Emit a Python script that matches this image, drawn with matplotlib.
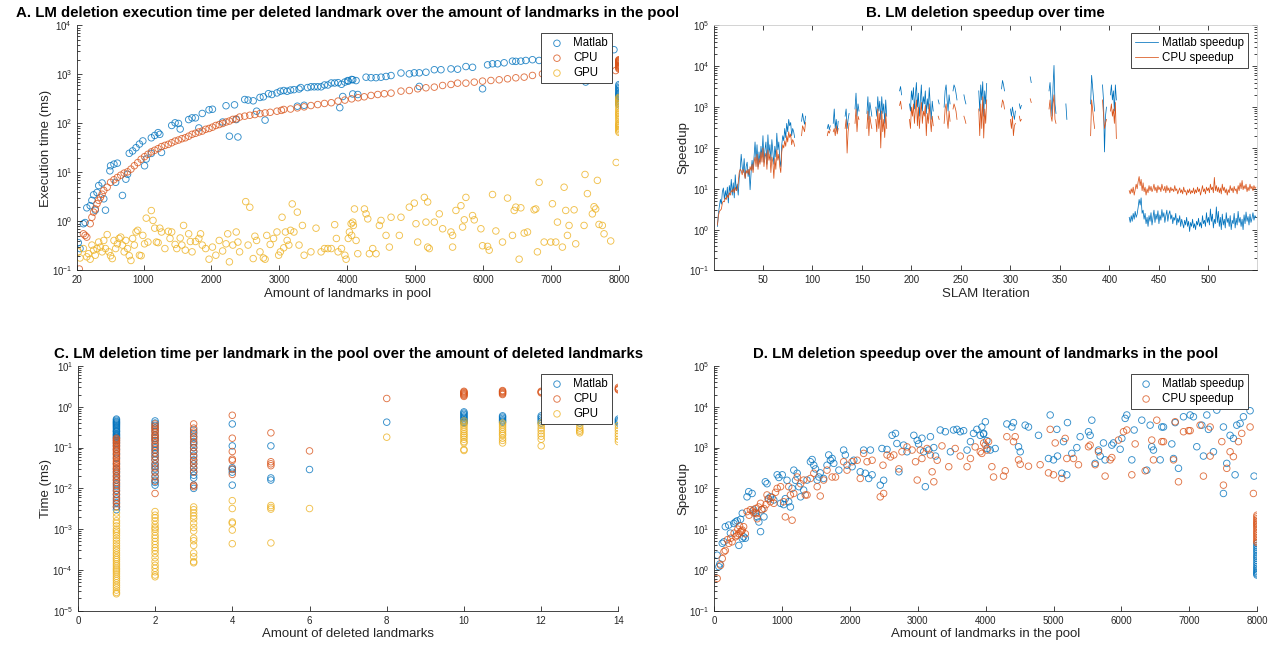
import numpy as np
import matplotlib
matplotlib.use('Agg')
import matplotlib.pyplot as plt
from matplotlib.ticker import NullFormatter

plt.rcParams['font.family'] = ['Liberation Sans', 'DejaVu Sans']
plt.rcParams['mathtext.default'] = 'regular'

# MATLAB default colour order
C_MATLAB = '#0072BD'
C_CPU = '#D95319'
C_GPU = '#EDB120'

POOL_MAX = 8000

# ---- A. execution time per deleted landmark vs pool size ----
a_matlab_pool = [
    40, 65, 115, 140, 165, 215, 240, 265, 315, 340,
    390, 290, 415, 440, 505, 515, 565, 615, 590, 690,
    740, 765, 790, 840, 890, 940, 990, 1015, 1040, 1115,
    1165, 1215, 1240, 1115, 1265, 1415, 1465, 1515, 1540, 1665,
    1715, 1765, 1815, 1865, 1965, 2015, 2165, 2215, 2265, 2340,
    2365, 2390, 2490, 2540, 2615, 2665, 2715, 2765, 2790, 2840,
    2890, 2965, 3015, 3065, 3115, 3165, 3215, 3265, 3290, 3315,
    3365, 3415, 3465, 3515, 3565, 3615, 3665, 3715, 3765, 3815,
    3865, 3890, 3915, 3965, 4015, 4065, 4007, 4081, 4130, 4277,
    4350, 4424, 4497, 4571, 4645, 4791, 4914, 4987, 5061, 5159,
    5282, 5380, 5527, 5625, 5747, 5845, 6066, 6139, 6213, 6310,
    6433, 6482, 6555, 6629, 6727, 6825, 7511, 7927, 3934, 4081,
    4155, 5061, 5992, 7050, 7250, 7450, 7700,
]
a_matlab_time = [
    0.37, 0.28, 0.9, 0.95, 1.9, 2.1, 2.7, 3.5, 3.9, 5.4,
    6.1, 1.7, 2.9, 1.7, 10.8, 13.7, 14.8, 15.5, 6.3, 3.4,
    7.3, 9.2, 24.6, 27.5, 32, 38, 44, 13.7, 18.8, 51,
    57, 65, 60, 24.5, 25.6, 91, 103, 100, 77, 120,
    130, 130, 81, 160, 190, 195, 107, 230, 55, 240,
    120, 53, 308, 300, 290, 178, 340, 350, 117, 405,
    390, 420, 455, 470, 455, 480, 490, 225, 505, 540,
    235, 540, 560, 560, 560, 560, 610, 610, 670, 670,
    680, 210, 630, 700, 730, 790, 750, 780, 750, 880,
    860, 860, 880, 910, 950, 1070, 1030, 1080, 1080, 1110,
    1250, 1250, 1300, 1280, 1450, 1400, 1570, 1650, 1650, 1730,
    1870, 1850, 1870, 1930, 2000, 1930, 700, 3200, 355, 400,
    390, 570, 510, 2200, 2400, 2600, 2800,
]
a_matlab_full = [620, 580, 540, 510, 480, 450, 420, 400, 380, 360, 340, 320, 300, 280, 260, 240]

a_cpu_pool = [
    55, 115, 140, 165, 215, 240, 265, 290, 315, 340,
    365, 390, 415, 465, 515, 565, 615, 665, 715, 765,
    815, 865, 915, 965, 1015, 1065, 1115, 1165, 1215, 1265,
    1315, 1365, 1415, 1465, 1515, 1565, 1615, 1665, 1715, 1765,
    1815, 1865, 1915, 1965, 2015, 2065, 2115, 2165, 2215, 2265,
    2315, 2365, 2415, 2490, 2565, 2640, 2715, 2790, 2865, 2965,
    3065, 3165, 3265, 3365, 3465, 3565, 3665, 3765, 3865, 3965,
    4065, 4350, 4449, 4546, 4645, 4791, 4914, 5037, 5159, 5282,
    5404, 5527, 5625, 5747, 5870, 5992, 6115, 6237, 6360, 6482,
    6605, 6727, 6874, 7120, 7413, 7756, 7952, 4160, 4250, 3030,
]
a_cpu_time = [
    0.107, 0.56, 0.52, 0.48, 0.9, 1.22, 1.55, 1.8, 2.3, 2.7,
    3.1, 3.6, 4.3, 5.0, 6.3, 7.1, 7.9, 8.8, 9.7, 10.3,
    11.7, 13.7, 15.9, 18.6, 21, 23.5, 26.3, 28.4, 30.6, 33.7,
    35.7, 37.5, 40.4, 43.7, 45.9, 48.9, 51, 55, 60, 63,
    67, 70, 76, 79, 84, 91, 95, 100, 107, 112,
    121, 124, 135, 141, 147, 152, 159, 164, 169, 178,
    193, 197, 208, 218, 232, 243, 256, 265, 286, 300,
    318, 373, 390, 404, 416, 457, 470, 510, 535, 551,
    596, 625, 665, 665, 697, 731, 754, 778, 816, 855,
    882, 955, 1030, 1060, 1110, 1170, 1200, 335, 350, 185,
]
a_cpu_full = [2000, 1950, 1900, 1850, 1800, 1750, 1700, 1650, 1600, 1550, 1500, 1450, 1400, 1350, 1300]

a_gpu_pool = [
    40, 65, 115, 165, 190, 215, 240, 265, 290, 315,
    340, 365, 390, 415, 440, 465, 490, 515, 540, 565,
    590, 615, 640, 665, 690, 715, 740, 765, 790, 815,
    840, 865, 890, 915, 940, 965, 990, 1015, 1040, 1065,
    1115, 1140, 1165, 1190, 1215, 1240, 1265, 1315, 1365, 1390,
    1415, 1465, 1490, 1540, 1565, 1590, 1615, 1665, 1690, 1715,
    1765, 1815, 1840, 1865, 1915, 1965, 2015, 2065, 2115, 2165,
    2215, 2240, 2265, 2315, 2365, 2390, 2415, 2505, 2540, 2565,
    2615, 2640, 2665, 2715, 2765, 2790, 2815, 2865, 2915, 2965,
    2990, 3015, 3040, 3065, 3090, 3115, 3140, 3165, 3190, 3215,
    3265, 3290, 3340, 3365, 3465, 3540, 3615, 3665, 3715, 3765,
    3815, 3840, 3865, 3915, 3965, 4015, 4065, 4090,
    3983, 4032, 4057, 4081, 4106, 4130, 4155, 4253, 4277, 4302,
    4326, 4375, 4424, 4473, 4497, 4571, 4620, 4645, 4767, 4791,
    4914, 4987, 5012, 5037, 5135, 5159, 5184, 5184, 5208, 5282,
    5355, 5404, 5527, 5551, 5551, 5600, 5674, 5698, 5723, 5747,
    5845, 5870, 5968, 5992, 6066, 6090, 6139, 6188, 6286, 6360,
    6433, 6458, 6482, 6531, 6556, 6605, 6654, 6751, 6776, 6800,
    6825, 6899, 6997, 7021, 7070, 7095, 7168, 7193, 7217, 7242,
    7266, 7340, 7364, 7487, 7501, 7536, 7609, 7634, 7658, 7683,
    7707, 7756, 7781, 7879, 7960,
]
a_gpu_time = [
    0.24, 0.18, 0.28, 0.19, 0.22, 0.17, 0.33, 0.26, 0.205, 0.28,
    0.38, 0.30, 0.24, 0.41, 0.28, 0.54, 0.24, 0.20, 0.175, 0.41,
    0.28, 0.35, 0.45, 0.48, 0.33, 0.24, 0.41, 0.28, 0.20, 0.16,
    0.45, 0.33, 0.61, 0.66, 0.205, 0.20, 0.52, 0.35, 1.17, 0.38,
    1.67, 1.05, 0.73, 0.38, 0.37, 0.73, 0.61, 0.28, 0.63, 0.45,
    0.61, 0.34, 0.28, 0.46, 0.33, 0.83, 0.26, 0.56, 0.39, 0.24,
    0.39, 0.45, 0.56, 0.33, 0.28, 0.17, 0.30, 0.205, 0.41, 0.25,
    0.35, 0.56, 0.15, 0.33, 0.61, 0.38, 0.24, 2.54, 0.33, 1.95,
    0.175, 0.50, 0.41, 0.24, 0.18, 0.17, 0.52, 0.34, 0.45, 0.61,
    0.205, 0.24, 1.22, 0.29, 0.61, 0.41, 0.33, 0.66, 2.28, 0.61,
    1.55, 0.33, 0.83, 0.205, 0.24, 0.73, 0.24, 0.28, 0.28, 0.28,
    0.86, 0.45, 0.24, 0.28, 0.205, 0.45, 0.52, 0.83,
    0.17, 0.61, 0.90, 0.97, 1.8, 0.41, 0.22, 1.8, 1.43, 1.13,
    0.22, 0.28, 0.22, 0.83, 1.05, 0.52, 0.30, 1.22, 0.52, 1.22,
    1.96, 2.37, 0.90, 0.38, 3.1, 0.97, 2.5, 0.30, 0.28, 0.97,
    1.43, 0.71, 0.61, 0.52, 0.30, 1.68, 2.1, 0.77, 1.08, 3.1,
    1.32, 1.08, 0.71, 0.32, 0.31, 0.26, 3.55, 0.64, 0.38, 3.0,
    0.52, 1.68, 1.96, 0.17, 1.9, 0.58, 0.61, 1.73, 1.8, 0.24,
    6.3, 0.38, 0.38, 2.3, 0.38, 0.97, 0.30, 5.0, 1.68, 0.52,
    0.83, 1.73, 0.35, 0.83, 9.1, 3.7, 1.43, 2.0, 1.8, 6.9,
    0.87, 0.83, 0.56, 0.40, 16,
]
a_gpu_full = [340, 320, 300, 280, 260, 240, 220, 200, 185, 170, 160, 150, 140, 130,
              120, 110, 100, 95, 90, 85, 80, 75, 70, 66]

# ---- B. speedup per SLAM iteration (only iterations with deletions) ----
b_seg_start = [4, 89, 115, 121, 133, 143, 155, 164, 188, 198, 227, 233, 242, 253,
               268, 291, 300, 309, 320, 339, 356, 381, 393, 401, 420]
b_matlab_seg = [
    [1.2, 2.5, 3.8, 5.5, 4.2, 8.5, 10.5, 5.5, 9, 6, 11, 4.5, 12, 8, 17, 7, 14, 6, 22, 9, 13, 7,
     18, 30, 70, 35, 25, 55, 18, 35, 45, 20, 30, 9.5, 25, 50, 30, 60, 140, 50, 120, 35, 80, 45,
     110, 60, 200, 45, 90, 140, 40, 210, 70, 120, 50, 160, 80, 40, 110, 60, 230, 90, 140, 50, 35,
     120, 200, 150, 300, 180, 400, 250, 500, 350, 420, 200, 300, 250, 180],
    [450, 700, 500, 380, 600],
    [300, 380, 280, 350],
    [400, 900, 300, 500, 250, 450],
    [600, 900, 300, 500, 700],
    [900, 2200, 600, 1200, 800],
    [700, 1800, 500, 1300, 900, 600],
    [1000, 600, 1800, 800, 1400, 500, 1800, 700, 1200, 400, 1500, 600],
    [2500, 3200, 2000],
    [1200, 800, 2500, 1500, 3000, 900, 2000, 4000, 1000, 2200, 600, 1500, 3500, 800, 1800, 1200,
     2500, 700, 1600, 900, 3000, 1100, 500, 1400, 800],
    [1500, 1200],
    [1000, 2500, 3500, 1500, 800, 2000, 1200],
    [2500, 3500, 3000, 2200, 1500],
    [2000, 1500, 1200],
    [2500, 800, 3500, 1500, 4200, 600, 2500, 1200, 3800],
    [2800, 4500, 3500, 2500],
    [900, 600, 1000, 700, 500, 800],
    [1200, 900, 1100],
    [5500, 4000],
    [2500, 4000, 1500, 600, 3000, 10500, 1200, 700],
    [1200, 500],
    [1200, 6000, 3000, 1500, 800],
    [3500, 1500, 80, 600, 1000],
    [2000, 3500, 1500, 2500, 800, 3500, 1500],
    [2.0, 1.5, 2.2, 1.6, 2.5, 1.8, 2.8, 2.0, 2.4, 3.5, 5.5,
     4.0, 6.0, 2.5, 3.0, 1.8, 2.5, 1.4, 2.0, 1.2, 2.2,
     1.6, 2.6, 1.3, 2.0, 3.0, 1.5, 2.4, 1.8, 2.9, 1.4,
     2.3, 1.7, 3.1, 2.0, 2.6, 1.5, 2.2, 3.0, 1.6, 2.4,
     2.9, 1.8, 2.3, 1.4, 2.0, 1.7, 2.5, 1.3, 1.9, 1.5,
     2.2, 1.2, 1.8, 1.4, 1.1, 1.7, 1.3, 2.0, 1.2, 1.6,
     0.9, 1.5, 1.2, 1.8, 1.1, 1.4, 1.0, 1.6, 1.3, 1.9,
     1.2, 1.5, 1.1, 2.2, 1.4, 1.7, 1.2, 2.6, 1.5, 2.0,
     1.3, 3.2, 1.6, 2.4, 1.1, 1.8, 1.4, 3.6, 1.5, 2.8,
     1.2, 2.0, 1.0, 2.4, 1.3, 1.8, 1.1, 2.6, 1.5, 1.9,
     1.2, 2.2, 1.0, 1.7, 1.4, 2.5, 1.1, 1.9, 1.3, 2.8,
     1.5, 2.0, 1.2, 1.8, 1.0, 2.3, 1.4, 2.7, 1.6, 2.1,
     1.3, 2.4, 1.5, 1.9, 2.6, 1.7, 2.2, 2.0],
]
b_cpu_seg = [
    [1.3, 2.2, 2.8, 3.0, 3.2, 4.5, 5, 4.8, 6, 5.5, 7, 6, 8, 7, 9, 8.5, 10, 8, 11, 9, 10, 14,
     25, 30, 28, 22, 30, 25, 18, 28, 24, 30, 22, 35, 28, 40, 25, 45, 60, 35, 70, 30, 55, 40,
     80, 45, 100, 35, 60, 75, 30, 90, 50, 70, 25, 60, 45, 18, 55, 30, 90, 50, 70, 35, 25,
     80, 120, 100, 150, 110, 200, 140, 250, 180, 220, 120, 160, 140, 110],
    [200, 350, 300, 250, 420],
    [200, 260, 230, 280],
    [250, 300, 200, 350, 220, 300],
    [300, 500, 75, 250, 400],
    [400, 900, 250, 600, 500],
    [300, 800, 200, 600, 400, 300],
    [500, 250, 900, 300, 700, 100, 800, 250, 500, 180, 700, 300],
    [1100, 1400, 900],
    [500, 300, 1000, 600, 1200, 400, 900, 1500, 350, 1000, 300, 700, 1300, 400, 800, 600,
     1100, 200, 700, 400, 1200, 500, 250, 600, 350],
    [600, 500],
    [400, 900, 1200, 500, 300, 800, 450],
    [900, 1200, 1000, 800, 500],
    [600, 500, 400],
    [900, 200, 1200, 300, 1800, 175, 900, 400, 1500],
    [1000, 1500, 1300, 900],
    [500, 300, 600, 200, 350, 400],
    [600, 450, 500],
    [1600, 1300],
    [900, 1500, 600, 450, 1200, 2000, 500, 400],
    [np.nan, np.nan],
    [200, 1500, 900, 500, 300],
    [1500, 700, 300, 400, 500],
    [800, 1200, 600, 900, 400, 1300, 170],
    [9, 7.5, 10, 8, 11, 7, 9.5, 13, 10, 15, 20,
     12, 17, 9, 14, 8.5, 11, 7, 10, 8, 12,
     9, 11.5, 8.5, 10, 13, 9, 11, 8, 12, 9.5,
     11, 8.5, 13, 10, 9, 11.5, 8, 12, 9, 10.5,
     8, 11, 9, 10, 8.5, 12, 9, 10, 7.5, 9,
     10.5, 8, 9.5, 7.5, 11, 8.5, 9, 7, 9.5, 8,
     10, 7.5, 9, 8, 10.5, 7.5, 9.5, 8, 11, 8.5,
     10, 7, 9, 12, 8.5, 10, 7.5, 11, 9, 10.5,
     8, 13, 9.5, 11, 8, 19, 9, 12, 8.5, 11,
     8, 10.5, 7.5, 13, 9, 11, 8, 10, 7, 9.5,
     8, 12, 9, 10.5, 8, 11.5, 9, 10, 7.5, 12,
     9, 14, 10, 16, 9.5, 12, 10, 13, 8.5, 11,
     9, 13, 10, 11.5, 9, 12, 10, 11],
]
N_ITER = 548

# ---- C. time per pool landmark vs number of deleted landmarks ----
c_deleted = [1, 2, 3, 4, 5, 6, 8, 10, 11, 12, 13, 14]
c_matlab_time = [
    [0.5, 0.47, 0.44, 0.42, 0.40, 0.38, 0.36, 0.34, 0.32, 0.30, 0.28, 0.26, 0.25, 0.24, 0.22,
     0.21, 0.2, 0.19, 0.18, 0.17, 0.15, 0.13, 0.11, 0.09, 0.07, 0.055, 0.04, 0.03, 0.025, 0.02,
     0.016, 0.013, 0.011, 0.009, 0.007, 0.0055, 0.0045, 0.0035, 0.003],
    [0.45, 0.4, 0.35, 0.3, 0.25, 0.2, 0.17, 0.15, 0.12, 0.1, 0.085, 0.07, 0.06, 0.05, 0.04,
     0.035, 0.03, 0.025, 0.02, 0.016, 0.014, 0.012],
    [0.27, 0.22, 0.18, 0.14, 0.12, 0.1, 0.08, 0.065, 0.05, 0.04, 0.032, 0.026, 0.021, 0.018,
     0.012, 0.01],
    [0.38, 0.11, 0.032, 0.029, 0.025, 0.012],
    [0.11, 0.018, 0.016],
    [0.029],
    [0.42],
    [0.75, 0.7, 0.65, 0.6, 0.56, 0.52, 0.48, 0.45, 0.42, 0.4],
    [0.6, 0.56, 0.52, 0.48, 0.45, 0.42],
    [0.6, 0.55, 0.5, 0.45, 0.4],
    [0.45, 0.4],
    [0.5, 0.46, 0.43, 0.4],
]
c_cpu_time = [
    [0.17, 0.16, 0.15, 0.14, 0.13, 0.12, 0.11, 0.10, 0.092, 0.085, 0.078, 0.07, 0.064, 0.058,
     0.052, 0.047, 0.043, 0.039, 0.035, 0.032, 0.029, 0.026, 0.023, 0.02, 0.018, 0.016, 0.014,
     0.012, 0.01, 0.0085, 0.0072, 0.006, 0.005, 0.0042, 0.0036],
    [0.38, 0.33, 0.3, 0.27, 0.24, 0.21, 0.19, 0.17, 0.15, 0.13, 0.11, 0.09, 0.075, 0.06, 0.05,
     0.04, 0.032, 0.025, 0.019, 0.015, 0.0075],
    [0.38, 0.3, 0.24, 0.19, 0.16, 0.13, 0.1, 0.08, 0.06, 0.048, 0.04, 0.032, 0.025, 0.012, 0.011],
    [0.62, 0.17, 0.08, 0.052, 0.048, 0.03, 0.022],
    [0.23, 0.045, 0.04, 0.036],
    [0.083],
    [1.6],
    [2.4, 2.3, 2.2, 2.1, 2.0, 1.9, 1.8],
    [2.5, 2.4, 2.3, 2.2, 2.1, 2.0],
    [2.4, 2.3, 2.2],
    [2.6, 2.5],
    [3.0, 2.8, 2.7, 2.6],
]
c_gpu_time = [
    [2.5e-3, 2e-3, 1.6e-3, 1.4e-3, 1.2e-3, 1.0e-3, 9e-4, 8e-4, 7e-4, 6e-4, 5.2e-4, 4.5e-4,
     3.9e-4, 3.4e-4, 3e-4, 2.6e-4, 2.3e-4, 2e-4, 1.8e-4, 1.6e-4, 1.4e-4, 1.25e-4, 1.1e-4,
     1e-4, 9e-5, 8e-5, 7e-5, 6.2e-5, 5.5e-5, 4.8e-5, 4.2e-5, 3.7e-5, 3.2e-5, 2.8e-5, 2.6e-5],
    [2.7e-3, 2.2e-3, 1.9e-3, 1.6e-3, 1.3e-3, 1.1e-3, 1e-3, 8.5e-4, 7e-4, 6e-4, 5e-4, 4.2e-4,
     3.5e-4, 3e-4, 2.5e-4, 2e-4, 1.6e-4, 1.3e-4, 1.1e-4, 9e-5, 7.5e-5, 6.8e-5],
    [3.5e-3, 3e-3, 2.5e-3, 2.1e-3, 1.8e-3, 1.4e-3, 1.1e-3, 9e-4, 6e-4, 5.2e-4, 4e-4, 2.6e-4,
     2.1e-4, 1.6e-4, 1.5e-4],
    [5e-3, 3.2e-3, 1.5e-3, 1.4e-3, 9.5e-4, 4.4e-4],
    [3.8e-3, 3.4e-3, 3.1e-3, 4.6e-4],
    [3.2e-3],
    [0.18],
    [0.45, 0.4, 0.36, 0.32, 0.28, 0.25, 0.22, 0.2, 0.18, 0.16, 0.14, 0.13, 0.09, 0.085],
    [0.4, 0.36, 0.32, 0.28, 0.25, 0.22, 0.2, 0.17, 0.15, 0.13],
    [0.4, 0.35, 0.3, 0.26, 0.22, 0.19, 0.16, 0.11],
    [0.35, 0.3, 0.27, 0.25, 0.23],
    [0.35, 0.3, 0.26, 0.22, 0.19, 0.16, 0.14],
]

# ---- D. speedup vs pool size ----
d_matlab_pool = [
    40, 65, 80, 115, 140, 160, 210, 235, 285, 310,
    335, 360, 385, 410, 410, 430, 455, 480, 505, 555,
    580, 605, 630, 655, 680, 700, 730, 750, 775, 800,
    825, 875, 925, 950, 975, 1000, 1020, 1045, 1070, 1095,
    1120, 1145, 1170, 1195, 1220, 1245, 1270, 1315, 1365, 1415,
    1440, 1465, 1490, 1515, 1540, 1560, 1610, 1660, 1685, 1710,
    1735, 1760, 1835, 1905, 1930, 1955, 2030, 2055, 2150, 2200,
    2225, 2275, 2300, 2325, 2445, 2470, 2495, 2545, 2620, 2670,
    2690, 2720, 2790, 2840, 2940, 2990, 3010, 3060, 3085, 3110,
    3160, 3185, 3235, 3260, 3330, 3405, 3480, 3525, 3575, 3625,
    3675, 3725, 3775, 3820, 3870, 3920, 3970, 3995, 4020,
    3943, 3968, 4017, 4066, 4140, 4312, 4386, 4410, 4484, 4509,
    4582, 4631, 4779, 4926, 4951, 5000, 5049, 5059, 5123, 5147,
    5196, 5206, 5270, 5344, 5393, 5516, 5540, 5565, 5614, 5663,
    5688, 5737, 5761, 5860, 5884, 5983, 6008, 6057, 6081, 6155,
    6189, 6302, 6376, 6425, 6449, 6474, 6548, 6573, 6597, 6622,
    6745, 6770, 6794, 6843, 6917, 7015, 7064, 7113, 7187, 7211,
    7261, 7285, 7359, 7408, 7506, 7555, 7506, 7604, 7653, 7678,
    7703, 7752, 7801, 7899, 7958,
]
d_matlab_speedup = [
    2.3, 1.2, 1.4, 4.5, 4.9, 11.5, 12.6, 8, 13.8, 15,
    16, 4, 17.4, 24.5, 5.9, 6.5, 6, 62, 83, 75,
    29.6, 25, 20, 15, 8.7, 30, 20, 145, 130, 56,
    62, 52, 215, 185, 43, 215, 40, 56, 158, 47,
    35, 100, 280, 158, 235, 110, 62, 91, 160, 450,
    510, 370, 300, 160, 190, 240, 175, 370, 660, 490,
    540, 410, 280, 870, 660, 370, 340, 490, 255, 870,
    235, 175, 870, 215, 120, 950, 158, 900, 2000, 2230,
    1260, 255, 1150, 790, 2000, 1500, 1230, 1700, 790, 110,
    870, 1850, 1000, 620, 2700, 2450, 790, 2700, 2800, 2450,
    2600, 870, 1400, 2230, 2800, 2000, 2230, 4300, 950,
    3200, 2140, 1480, 870, 950, 3800, 3200, 4100, 1050, 790,
    3550, 3200, 2000, 540, 6300, 500, 2800, 620, 235, 1400,
    215, 4100, 720, 1000, 1850, 2450, 2000, 4700, 410, 870,
    620, 1300, 500, 1150, 1300, 910, 1680, 5200, 6300, 500,
    2700, 4700, 280, 3550, 1050, 870, 11000, 500, 3200, 3200,
    1230, 540, 4100, 310, 5700, 6300, 5700, 1050, 3550, 620,
    6300, 2800, 790, 8300, 3200, 410, 75, 2000, 1680, 215,
    3550, 3900, 5700, 8000, 200,
]
d_matlab_full = [4.5, 4.0, 3.6, 3.2, 2.9, 2.6, 2.3, 2.1, 1.9, 1.7, 1.5, 1.35, 1.2, 1.1, 1.0,
                 0.92, 0.85, 0.8, 0.75]

d_cpu_pool = [
    40, 90, 115, 140, 160, 210, 260, 310, 335, 360,
    385, 410, 430, 455, 480, 530, 580, 605, 630, 680,
    730, 775, 825, 875, 925, 975, 1020, 1045, 1095, 1120,
    1145, 1170, 1220, 1270, 1315, 1340, 1365, 1415, 1465, 1515,
    1560, 1610, 1660, 1735, 1785, 1905, 1955, 2030, 2105, 2150,
    2200, 2250, 2325, 2445, 2485, 2495, 2545, 2595, 2645, 2720,
    2765, 2840, 2915, 2965, 2990, 3035, 3060, 3135, 3185, 3210,
    3235, 3285, 3355, 3455, 3550, 3625, 3725, 3775, 3845, 3920,
    3970, 4020, 190, 240, 290, 345, 370, 400, 510, 560,
    620, 650, 700, 760, 790, 850, 900,
    3943, 3993, 4042, 4091, 4116, 4263, 4288, 4312, 4410, 4435,
    4484, 4509, 4631, 4803, 4926, 4951, 5000, 5025, 5123, 5172,
    5196, 5295, 5368, 5516, 5540, 5614, 5663, 5761, 5835, 5860,
    5958, 6032, 6081, 6155, 6204, 6352, 6449, 6474, 6523, 6597,
    6622, 6770, 6794, 6843, 6917, 6991, 7015, 7162, 7211, 7310,
    7310, 7482, 7506, 7555, 7604, 7653, 7727, 7776, 7899, 7948,
]
d_cpu_speedup = [
    0.62, 1.3, 1.9, 2.8, 3.0, 4.5, 4.9, 6.5, 7, 7.7,
    8.7, 9.5, 11.5, 7.7, 27, 30, 25, 32, 18, 43,
    32, 69, 47, 43, 100, 110, 47, 20, 110, 69,
    16.6, 75, 190, 130, 160, 69, 69, 175, 235, 110,
    65, 160, 280, 190, 190, 450, 280, 450, 490, 175,
    720, 450, 490, 62, 370, 75, 660, 590, 660, 300,
    790, 1040, 870, 450, 160, 870, 540, 950, 660, 255,
    145, 490, 1100, 340, 950, 620, 340, 540, 1040, 790,
    1300, 870, 5.5, 6, 8, 10, 12, 9, 22, 28,
    24, 35, 30, 40, 55, 60, 80,
    720, 1150, 1400, 340, 190, 200, 270, 1850, 1400, 1850,
    500, 390, 350, 380, 240, 2800, 215, 1300, 175, 1680,
    540, 540, 380, 1050, 1150, 380, 790, 200, 500, 570,
    1530, 2450, 2700, 215, 1230, 270, 1530, 500, 4700, 1400,
    1400, 500, 4300, 145, 2450, 2600, 2600, 3550, 200, 3200,
    620, 1400, 120, 310, 790, 600, 1400, 2230, 3200, 75,
]
d_cpu_full = [22, 20, 18, 16.5, 15, 14, 13, 12, 11, 10, 9, 8.2, 7.5, 6.8, 6.2, 5.6, 5.1, 4.7]


# build the plotted arrays
def with_full_pool(pool, values, full_values):
    return (np.concatenate([pool, np.full(len(full_values), POOL_MAX)]),
            np.concatenate([values, full_values]))


def columns(cols, values):
    xs = np.concatenate([np.full(len(v), c) for c, v in zip(cols, values)])
    return xs, np.concatenate(values)


b_iter = np.arange(1, N_ITER + 1)
b_matlab = np.full(N_ITER, np.nan)
b_cpu = np.full(N_ITER, np.nan)
for start, m_vals, c_vals in zip(b_seg_start, b_matlab_seg, b_cpu_seg):
    b_matlab[start - 1:start - 1 + len(m_vals)] = m_vals
    b_cpu[start - 1:start - 1 + len(c_vals)] = c_vals

AX_COLOR = '#262626'
scatter_kw = dict(s=22, facecolors='none', linewidths=0.65, alpha=0.8)


def style_axes(ax, lo, hi, box=False):
    # log y axis from 10^lo to 10^hi, ticks only inside the range
    ax.set_yscale('log')
    ax.set_ylim(10.0 ** lo, 10.0 ** hi)
    ax.set_yticks([10.0 ** e for e in range(lo, hi + 1)])
    ax.set_yticks([m * 10.0 ** e for e in range(lo, hi) for m in range(2, 10)], minor=True)
    ax.yaxis.set_minor_formatter(NullFormatter())
    for side in ['left', 'bottom']:
        ax.spines[side].set_color(AX_COLOR)
        ax.spines[side].set_linewidth(0.6)
    for side in ['top', 'right']:
        if box:
            ax.spines[side].set_color('#cccccc')
            ax.spines[side].set_linewidth(0.6)
        else:
            ax.spines[side].set_visible(False)
    ax.tick_params(which='both', direction='in', colors=AX_COLOR, labelsize=7,
                   width=0.6, top=box, right=box)
    ax.tick_params(which='major', length=3.5)
    ax.tick_params(which='minor', length=2)


def add_legend(ax, anchor):
    leg = ax.legend(loc='upper right', bbox_to_anchor=anchor, borderaxespad=0,
                    fontsize=8.3, frameon=True, fancybox=False, edgecolor=AX_COLOR,
                    framealpha=1, borderpad=0.35, handletextpad=0.4, labelspacing=0.25,
                    scatterpoints=1)
    leg.get_frame().set_linewidth(0.6)
    return leg


fig = plt.figure(figsize=(12.74, 6.46), dpi=100)
title_kw = dict(fontsize=10.8, fontweight='bold', pad=6)
xlabel_kw = dict(fontsize=9.5, color=AX_COLOR, labelpad=2)
ylabel_kw = dict(fontsize=9.5, color=AX_COLOR, labelpad=0)

# A
ax = fig.add_axes([0.0604, 0.5813, 0.4254, 0.3793])
x, y = with_full_pool(a_matlab_pool, a_matlab_time, a_matlab_full)
ax.scatter(x, y, edgecolors=C_MATLAB, label='Matlab', **scatter_kw)
x, y = with_full_pool(a_cpu_pool, a_cpu_time, a_cpu_full)
ax.scatter(x, y, edgecolors=C_CPU, label='CPU', **scatter_kw)
x, y = with_full_pool(a_gpu_pool, a_gpu_time, a_gpu_full)
ax.scatter(x, y, edgecolors=C_GPU, label='GPU', **scatter_kw)
style_axes(ax, -1, 4)
ax.set_xlim(20, 8000)
ax.set_xticks([20, 1000, 2000, 3000, 4000, 5000, 6000, 7000, 8000])
ax.set_title('A. LM deletion execution time per deleted landmark over the amount of landmarks in the pool', **title_kw)
ax.set_xlabel('Amount of landmarks in pool', **xlabel_kw)
ax.set_ylabel('Execution time (ms)', **ylabel_kw)
add_legend(ax, (0.987, 0.968))

# B
ax = fig.add_axes([0.5608, 0.5813, 0.4258, 0.3793])
ax.plot(b_iter, b_matlab, color=C_MATLAB, lw=0.55, label='Matlab speedup')
ax.plot(b_iter, b_cpu, color=C_CPU, lw=0.55, label='CPU speedup')
style_axes(ax, -1, 5, box=True)
ax.set_xlim(1, 549)
ax.set_xticks([50, 100, 150, 200, 250, 300, 350, 400, 450, 500])
ax.set_title('B. LM deletion speedup over time', **title_kw)
ax.set_xlabel('SLAM Iteration', **xlabel_kw)
ax.set_ylabel('Speedup', **ylabel_kw)
add_legend(ax, (0.984, 0.968))

# C
ax = fig.add_axes([0.0611, 0.0546, 0.4243, 0.3788])
x, y = columns(c_deleted, c_matlab_time)
ax.scatter(x, y, edgecolors=C_MATLAB, label='Matlab', **scatter_kw)
x, y = columns(c_deleted, c_cpu_time)
ax.scatter(x, y, edgecolors=C_CPU, label='CPU', **scatter_kw)
x, y = columns(c_deleted, c_gpu_time)
ax.scatter(x, y, edgecolors=C_GPU, label='GPU', **scatter_kw)
style_axes(ax, -5, 1)
ax.set_xlim(0, 14)
ax.set_xticks(range(0, 15, 2))
ax.set_title('C. LM deletion time per landmark in the pool over the amount of deleted landmarks', **title_kw)
ax.set_xlabel('Amount of deleted landmarks', **xlabel_kw)
ax.set_ylabel('Time (ms)', **ylabel_kw)
add_legend(ax, (0.988, 0.967))

# D
ax = fig.add_axes([0.5608, 0.0546, 0.4258, 0.3788])
x, y = with_full_pool(d_matlab_pool, d_matlab_speedup, d_matlab_full)
ax.scatter(x, y, edgecolors=C_MATLAB, label='Matlab speedup', **scatter_kw)
x, y = with_full_pool(d_cpu_pool, d_cpu_speedup, d_cpu_full)
ax.scatter(x, y, edgecolors=C_CPU, label='CPU speedup', **scatter_kw)
style_axes(ax, -1, 5)
ax.set_xlim(0, 8000)
ax.set_xticks(range(0, 8001, 1000))
ax.set_title('D. LM deletion speedup over the amount of landmarks in the pool', **title_kw)
ax.set_xlabel('Amount of landmarks in the pool', **xlabel_kw)
ax.set_ylabel('Speedup', **ylabel_kw)
add_legend(ax, (0.984, 0.967))

fig.savefig('out.png', dpi=100)
